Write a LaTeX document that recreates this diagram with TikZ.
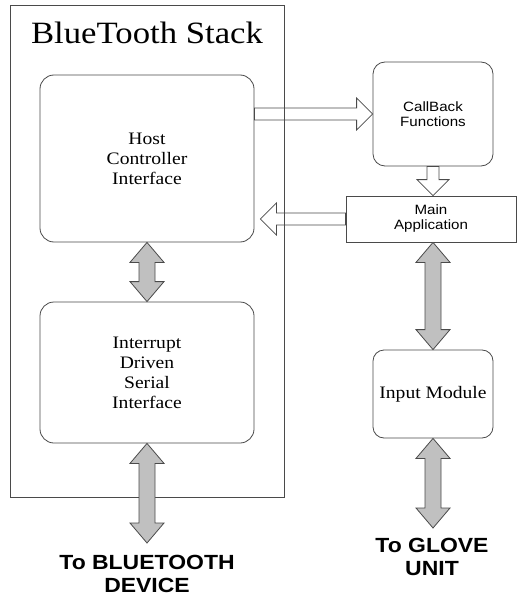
\documentclass[tikz,border=0pt]{standalone}
\usepackage{fontspec}
\setmainfont{Liberation Serif}[FakeStretch=1.12]
\setsansfont{Liberation Sans}[FakeStretch=1.12]
\usepackage{tikz}
\usetikzlibrary{calc}
\definecolor{boxline}{HTML}{4A4A4A}
\definecolor{arrowfill}{HTML}{C0C0C0}
\tikzset{
  rbox/.style={draw=boxline, line width=0.8pt, rounded corners=14pt, align=center,
               inner sep=0pt, font=\fontsize{17.5}{20}\selectfont},
  sbox/.style={draw=boxline, line width=0.8pt, rounded corners=12pt, align=center,
               inner sep=0pt, font=\sffamily\fontsize{13.5}{15}\selectfont},
  garrow/.style={draw=boxline, fill=arrowfill, line width=0.8pt},
  warrow/.style={draw=boxline, line width=0.8pt},
  endlabel/.style={align=center, font=\sffamily\bfseries\fontsize{20.5}{23}\selectfont},
}
% grey double block arrow, #1 top tip, #2 bottom tip
\newcommand{\dblarrow}[2]{%
  \draw[garrow] (#1) -- ++(17,20) -- ++(-9,0) -- ($(#2)+(8,-20)$) -- ++(9,0) -- (#2)
    -- ++(-17,-20) -- ++(9,0) -- ($(#1)+(-8,20)$) -- ++(-9,0) -- cycle;}
% white single block arrow, #1 tail, #2 tip
\newcommand{\hollowarrow}[2]{%
  \coordinate (hb) at ($(#2)!16pt!(#1)$);
  \draw[warrow] ($(#1)!6pt!90:(#2)$) -- ($(hb)!6pt!-90:(#1)$) -- ($(hb)!16pt!-90:(#1)$)
    -- (#2) -- ($(hb)!16pt!90:(#1)$) -- ($(hb)!6pt!90:(#1)$) -- ($(#1)!6pt!-90:(#2)$) -- cycle;}

\begin{document}
\begin{tikzpicture}[x=1pt, y=-1pt]
  \useasboundingbox (0,0) rectangle (517,596);

  %% -- the stack --
  \draw[boxline, line width=0.8pt] (10,5) rectangle (284,497);
  \node[font=\fontsize{31}{34}\selectfont] (title) at (147,33) {BlueTooth Stack};
  \node[rbox, minimum width=214pt, minimum height=167pt] (hci) at (147,158.5)
    {Host\\Controller\\Interface};
  \node[rbox, minimum width=214pt, minimum height=141pt] (isi) at (147,372.5)
    {Interrupt\\Driven\\Serial\\Interface};

  %% -- application side --
  \node[sbox, minimum width=120pt, minimum height=104pt] (callback) at (433,114)
    {CallBack\\Functions};
  \node[sbox, rounded corners=0pt, minimum width=170pt, minimum height=46pt] (mainapp)
    at (431,219) {Main\\Application};
  \node[rbox, rounded corners=11pt, minimum width=120pt, minimum height=88pt] (input)
    at (433,394) {Input Module};

  %% -- outside ends --
  \node[endlabel] (btdev) at (147,573.5) {To BLUETOOTH\\DEVICE};
  \node[endlabel] (glove) at (432,556.5) {To GLOVE\\UNIT};
  \coordinate (btend) at (147,543);
  \coordinate (gloveend) at (433,528);

  %% -- hollow arrows --
  \coordinate (cbtail) at (hci.east |- callback.west);
  \hollowarrow{cbtail}{callback.west}
  \hollowarrow{callback.south}{callback.south |- mainapp.north}
  \coordinate (hcitip) at ($(hci.east |- mainapp.west)+(6,0)$);
  \hollowarrow{mainapp.west}{hcitip}

  %% -- grey double arrows --
  \dblarrow{hci.south}{isi.north}
  \dblarrow{isi.south}{btend}
  \coordinate (mainbot) at (input.north |- mainapp.south);
  \dblarrow{mainbot}{input.north}
  \dblarrow{input.south}{gloveend}
\end{tikzpicture}
\end{document}
